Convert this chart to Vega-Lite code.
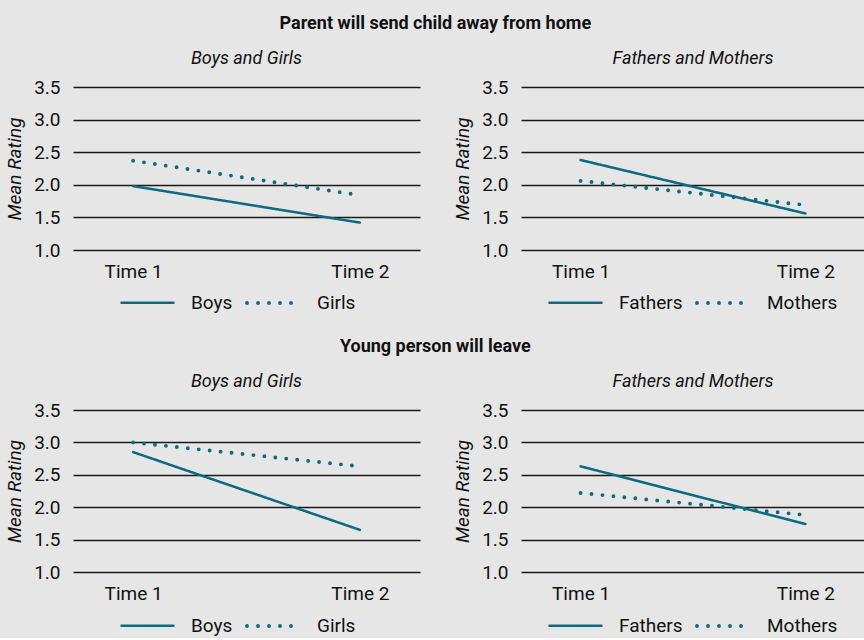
{
  "$schema": "https://vega.github.io/schema/vega-lite/v6.json",
  "background": "#e6e6e6",
  "padding": {"left": 5, "top": 15, "right": 0, "bottom": 2},
  "datasets": {
    "ratings": [
      {"q": "P", "panel": "BG", "series": "Boys", "time": "Time 1", "value": 1.98},
      {"q": "P", "panel": "BG", "series": "Boys", "time": "Time 2", "value": 1.42},
      {"q": "P", "panel": "BG", "series": "Girls", "time": "Time 1", "value": 2.37},
      {"q": "P", "panel": "BG", "series": "Girls", "time": "Time 2", "value": 1.84},
      {"q": "P", "panel": "FM", "series": "Fathers", "time": "Time 1", "value": 2.38},
      {"q": "P", "panel": "FM", "series": "Fathers", "time": "Time 2", "value": 1.56},
      {"q": "P", "panel": "FM", "series": "Mothers", "time": "Time 1", "value": 2.06},
      {"q": "P", "panel": "FM", "series": "Mothers", "time": "Time 2", "value": 1.69},
      {"q": "Y", "panel": "BG", "series": "Boys", "time": "Time 1", "value": 2.85},
      {"q": "Y", "panel": "BG", "series": "Boys", "time": "Time 2", "value": 1.65},
      {"q": "Y", "panel": "BG", "series": "Girls", "time": "Time 1", "value": 3.0},
      {"q": "Y", "panel": "BG", "series": "Girls", "time": "Time 2", "value": 2.63},
      {"q": "Y", "panel": "FM", "series": "Fathers", "time": "Time 1", "value": 2.63},
      {"q": "Y", "panel": "FM", "series": "Fathers", "time": "Time 2", "value": 1.74},
      {"q": "Y", "panel": "FM", "series": "Mothers", "time": "Time 1", "value": 2.22},
      {"q": "Y", "panel": "FM", "series": "Mothers", "time": "Time 2", "value": 1.88}
    ]
  },
  "data": {"name": "ratings"},
  "spacing": 25,
  "vconcat": [
    {
      "title": {"text": "Parent will send child away from home", "offset": 17},
      "spacing": 33,
      "hconcat": [
        {
          "title": {"text": "Boys and Girls", "fontStyle": "italic", "fontWeight": "normal", "offset": 10},
          "width": 347, "height": 163,
          "transform": [{"filter": "datum.q == 'P' && datum.panel == 'BG'"}],
          "mark": {"type": "line", "color": "#0c6b80", "strokeCap": "round"},
          "encoding": {
            "x": {"field": "time", "type": "ordinal", "scale": {"type": "point", "padding": 0.265}},
            "y": {"field": "value", "type": "quantitative", "scale": {"domain": [1, 3.5]}, "axis": {"title": "Mean Rating"}},
            "strokeDash": {"field": "series", "type": "nominal", "scale": {"domain": ["Boys", "Girls"], "range": [[1, 0], [0, 11]]}, "legend": {"legendX": 47, "legendY": 188, "encode": {"symbols": {"update": {"strokeCap": {"value": "round"}}}}}},
            "strokeWidth": {"field": "series", "type": "nominal", "scale": {"domain": ["Boys", "Girls"], "range": [2.5, 3.9]}, "legend": null}
          }
        },
        {
          "title": {"text": "Fathers and Mothers", "fontStyle": "italic", "fontWeight": "normal", "offset": 10},
          "width": 344, "height": 163,
          "transform": [{"filter": "datum.q == 'P' && datum.panel == 'FM'"}],
          "mark": {"type": "line", "color": "#0c6b80", "strokeCap": "round"},
          "encoding": {
            "x": {"field": "time", "type": "ordinal", "scale": {"type": "point", "padding": 0.265}},
            "y": {"field": "value", "type": "quantitative", "scale": {"domain": [1, 3.5]}, "axis": {"title": "Mean Rating"}},
            "strokeDash": {"field": "series", "type": "nominal", "scale": {"domain": ["Fathers", "Mothers"], "range": [[1, 0], [0, 11]]}, "legend": {"legendX": 27, "legendY": 188, "encode": {"symbols": {"update": {"strokeCap": {"value": "round"}}}}}},
            "strokeWidth": {"field": "series", "type": "nominal", "scale": {"domain": ["Fathers", "Mothers"], "range": [2.5, 3.9]}, "legend": null}
          }
        }
      ],
      "resolve": {"scale": {"strokeDash": "independent", "strokeWidth": "independent"}, "legend": {"strokeDash": "independent"}}
    },
    {
      "title": {"text": "Young person will leave", "offset": 17},
      "spacing": 33,
      "hconcat": [
        {
          "title": {"text": "Boys and Girls", "fontStyle": "italic", "fontWeight": "normal", "offset": 10},
          "width": 347, "height": 162,
          "transform": [{"filter": "datum.q == 'Y' && datum.panel == 'BG'"}],
          "mark": {"type": "line", "color": "#0c6b80", "strokeCap": "round"},
          "encoding": {
            "x": {"field": "time", "type": "ordinal", "scale": {"type": "point", "padding": 0.265}},
            "y": {"field": "value", "type": "quantitative", "scale": {"domain": [1, 3.5]}, "axis": {"title": "Mean Rating"}},
            "strokeDash": {"field": "series", "type": "nominal", "scale": {"domain": ["Boys", "Girls"], "range": [[1, 0], [0, 11]]}, "legend": {"legendX": 47, "legendY": 188, "encode": {"symbols": {"update": {"strokeCap": {"value": "round"}}}}}},
            "strokeWidth": {"field": "series", "type": "nominal", "scale": {"domain": ["Boys", "Girls"], "range": [2.5, 3.9]}, "legend": null}
          }
        },
        {
          "title": {"text": "Fathers and Mothers", "fontStyle": "italic", "fontWeight": "normal", "offset": 10},
          "width": 344, "height": 162,
          "transform": [{"filter": "datum.q == 'Y' && datum.panel == 'FM'"}],
          "mark": {"type": "line", "color": "#0c6b80", "strokeCap": "round"},
          "encoding": {
            "x": {"field": "time", "type": "ordinal", "scale": {"type": "point", "padding": 0.265}},
            "y": {"field": "value", "type": "quantitative", "scale": {"domain": [1, 3.5]}, "axis": {"title": "Mean Rating"}},
            "strokeDash": {"field": "series", "type": "nominal", "scale": {"domain": ["Fathers", "Mothers"], "range": [[1, 0], [0, 11]]}, "legend": {"legendX": 27, "legendY": 188, "encode": {"symbols": {"update": {"strokeCap": {"value": "round"}}}}}},
            "strokeWidth": {"field": "series", "type": "nominal", "scale": {"domain": ["Fathers", "Mothers"], "range": [2.5, 3.9]}, "legend": null}
          }
        }
      ],
      "resolve": {"scale": {"strokeDash": "independent", "strokeWidth": "independent"}, "legend": {"strokeDash": "independent"}}
    }
  ],
  "config": {
    "font": "Roboto, sans-serif",
    "view": {"stroke": null},
    "title": {"fontSize": 18, "fontWeight": "bold", "color": "#111", "anchor": "middle"},
    "axisX": {"title": null, "labelAngle": 0, "domain": false, "ticks": false, "grid": false, "labelFontSize": 19, "labelPadding": 12, "labelColor": "#111"},
    "axisY": {"values": [1, 1.5, 2, 2.5, 3, 3.5], "format": ".1f", "domain": false, "ticks": false, "grid": true, "gridColor": "#1a1a1a", "gridWidth": 1.4, "gridOpacity": 1, "labelFontSize": 19, "labelPadding": 13, "labelColor": "#111", "titleFontSize": 19, "titleFontStyle": "italic", "titleFontWeight": "normal", "titleColor": "#111", "titlePadding": 9},
    "legend": {"orient": "none", "direction": "horizontal", "title": null, "symbolType": "stroke", "symbolSize": 2704, "symbolStrokeColor": "#0c6b80", "symbolStrokeWidth": 3, "labelFontSize": 19, "labelColor": "#111", "labelOffset": 16, "columnPadding": 6, "symbolLimit": 10}
  }
}
